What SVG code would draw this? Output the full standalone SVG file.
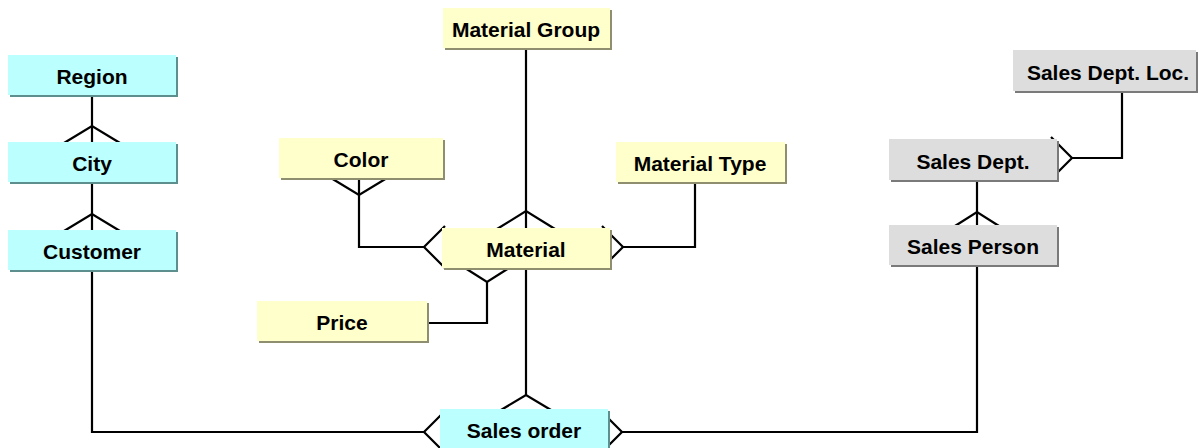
<svg xmlns="http://www.w3.org/2000/svg" width="1199" height="448" viewBox="0 0 1199 448">
<style>
.ln{fill:none;stroke:#000;stroke-width:2.2;stroke-linejoin:miter;stroke-linecap:butt}
.cy{fill:#BBFFFF}
.ye{fill:#FFFFCC}
.gr{fill:#DDDDDD}
.cys{fill:#5E8F8F}
.yes{fill:#8F8F70}
.grs{fill:#7A7A7A}
.t{font-family:"Liberation Sans",Arial,sans-serif;font-weight:bold;font-size:21px;fill:#000;text-anchor:middle}
</style>
<rect width="1199" height="448" fill="#fff"/>
<g id="connectors">
  <!-- Region - City -->
  <path class="ln" d="M92,95 V142"/>
  <path class="ln" d="M64,143 L92,126 L120,143"/>
  <!-- City - Customer -->
  <path class="ln" d="M92,182 V230"/>
  <path class="ln" d="M64,231 L92,214 L120,231"/>
  <!-- Customer - Sales order -->
  <path class="ln" d="M92,271 V432 H424"/>
  <path class="ln" d="M446,410 L424,432 L446,454"/>
  <!-- Material Group - Material -->
  <path class="ln" d="M526,48 V228"/>
  <path class="ln" d="M497,229 L526,211 L555,229"/>
  <!-- Color - Material -->
  <path class="ln" d="M359,179 V247 H424"/>
  <path class="ln" d="M331,178 L359,195 L387,178"/>
  <path class="ln" d="M445,226 L424,247 L445,268"/>
  <!-- Material Type - Material -->
  <path class="ln" d="M695,183 V247 H623"/>
  <path class="ln" d="M602,226 L623,247 L602,268"/>
  <!-- Price - Material -->
  <path class="ln" d="M427,323 H487 V282"/>
  <path class="ln" d="M465,268 L487,282 L509,268"/>
  <!-- Material - Sales order -->
  <path class="ln" d="M526,269 V395"/>
  <path class="ln" d="M501,410 L526,395 L551,410"/>
  <!-- Sales Dept. Loc. - Sales Dept. -->
  <path class="ln" d="M1122,92 V158 H1072"/>
  <path class="ln" d="M1051,137 L1072,158 L1051,179"/>
  <!-- Sales Dept. - Sales Person -->
  <path class="ln" d="M977,181 V225"/>
  <path class="ln" d="M955,226 L977,212 L999,226"/>
  <!-- Sales Person - Sales order -->
  <path class="ln" d="M977,265 V432 H622"/>
  <path class="ln" d="M601,411 L622,432 L601,453"/>
</g>
<g id="region"><rect class="cys" x="10" y="57" width="168" height="40"/><rect class="cy" x="8" y="55" width="168" height="40"/><text class="t" x="92" y="84">Region</text></g>
<g id="city"><rect class="cys" x="10" y="144" width="168" height="40"/><rect class="cy" x="8" y="142" width="168" height="40"/><text class="t" x="92" y="171">City</text></g>
<g id="customer"><rect class="cys" x="10" y="232" width="168" height="40"/><rect class="cy" x="8" y="230" width="168" height="40"/><text class="t" x="92" y="259">Customer</text></g>
<g id="material-group"><rect class="yes" x="445" y="10" width="167" height="40"/><rect class="ye" x="443" y="8" width="167" height="40"/><text class="t" x="526" y="37">Material Group</text></g>
<g id="color"><rect class="yes" x="281" y="140" width="164" height="40"/><rect class="ye" x="279" y="138" width="164" height="40"/><text class="t" x="361" y="167">Color</text></g>
<g id="material-type"><rect class="yes" x="618" y="144" width="169" height="40"/><rect class="ye" x="616" y="142" width="169" height="40"/><text class="t" x="700" y="171">Material Type</text></g>
<g id="material"><rect class="yes" x="444" y="230" width="168" height="40"/><rect class="ye" x="442" y="228" width="168" height="40"/><text class="t" x="526" y="257">Material</text></g>
<g id="price"><rect class="yes" x="259" y="303" width="170" height="40"/><rect class="ye" x="257" y="301" width="170" height="40"/><text class="t" x="342" y="330">Price</text></g>
<g id="sales-order"><rect class="cys" x="442" y="411" width="168" height="40"/><rect class="cy" x="440" y="409" width="168" height="40"/><text class="t" x="524" y="438">Sales order</text></g>
<g id="sales-dept-loc"><rect class="grs" x="1015" y="52" width="183" height="41"/><rect class="gr" x="1013" y="50" width="183" height="41"/><text class="t" x="1108" y="80">Sales Dept. Loc.</text></g>
<g id="sales-dept"><rect class="grs" x="891" y="141" width="168" height="41"/><rect class="gr" x="889" y="139" width="168" height="41"/><text class="t" x="973" y="169">Sales Dept.</text></g>
<g id="sales-person"><rect class="grs" x="891" y="227" width="168" height="40"/><rect class="gr" x="889" y="225" width="168" height="40"/><text class="t" x="973" y="254">Sales Person</text></g>
</svg>
